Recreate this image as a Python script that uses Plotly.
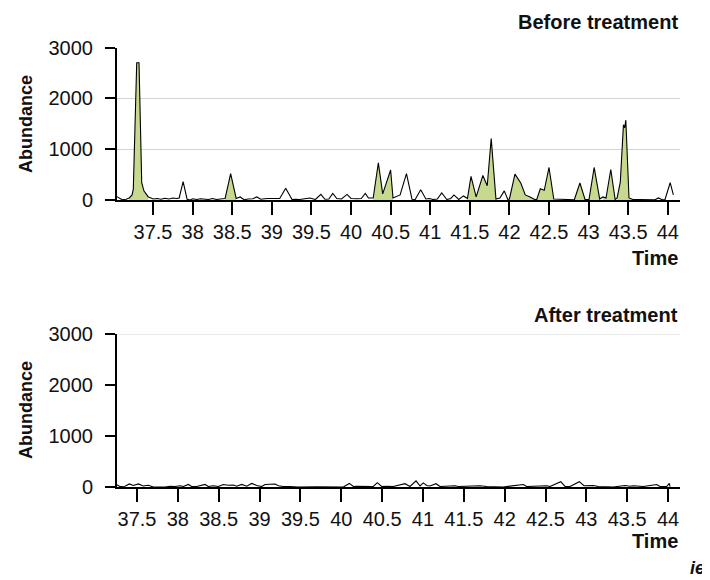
import plotly.graph_objects as go

# ---------------- data ----------------
before_time = [37.045, 37.11, 37.16, 37.20, 37.235, 37.251, 37.294, 37.323, 37.357, 37.386,
               37.441, 37.504, 37.55, 37.60, 37.65, 37.70, 37.75, 37.80, 37.83, 37.88,
               37.93, 37.97, 38.00, 38.05, 38.10, 38.15, 38.20, 38.25, 38.30, 38.35,
               38.41, 38.48, 38.55, 38.60, 38.65, 38.70, 38.76, 38.81, 38.86, 38.94,
               39.00, 39.08, 39.10, 39.175, 39.255, 39.30, 39.35, 39.48, 39.55, 39.62,
               39.67, 39.72, 39.77, 39.82, 39.88, 39.95, 40.00, 40.08, 40.13, 40.18,
               40.22, 40.28, 40.345, 40.40, 40.50, 40.53, 40.57, 40.62, 40.70, 40.77,
               40.81, 40.88, 40.945, 40.99, 41.035, 41.09, 41.145, 41.21, 41.26, 41.30,
               41.36, 41.42, 41.47, 41.515, 41.58, 41.665, 41.72, 41.77, 41.83, 41.88,
               41.935, 41.98, 42.00, 42.07, 42.145, 42.20, 42.26, 42.32, 42.345, 42.39,
               42.44, 42.50, 42.56, 42.64, 42.70, 42.77, 42.82, 42.89, 42.955, 43.005,
               43.07, 43.14, 43.18, 43.22, 43.28, 43.335, 43.36, 43.40, 43.44, 43.455,
               43.47, 43.51, 43.56, 43.63, 43.71, 43.775, 43.84, 43.88, 43.93, 43.965,
               44.03, 44.07]
before_abundance = [65, 5, 15, 40, 100, 215, 2700, 2700, 340, 175,
                    60, 20, 30, 15, 35, 20, 40, 30, 40, 360,
                    15, 0, 25, 10, 25, 15, 10, 30, 10, 20,
                    30, 520, 30, 60, 5, 20, 25, 60, 15, 30,
                    35, 30, 30, 230, 10, 15, 10, 40, 10, 110,
                    15, 20, 130, 30, 20, 110, 30, 25, 30, 130,
                    40, 40, 730, 120, 590, 40, 60, 100, 520, 15,
                    10, 200, 20, 30, 10, 20, 140, 10, 30, 100,
                    10, 80, 30, 465, 60, 483, 280, 1210, 20, 40,
                    180, 10, 20, 510, 330, 100, 60, 10, 10, 220,
                    190, 640, 20, 15, 0, 5, 5, 335, 10, 10,
                    640, 20, 60, 40, 600, 10, 40, 350, 1480, 1420,
                    1570, 40, 10, 10, 10, 0, 5, 40, 5, 10,
                    340, 100]

# detected peaks (shaded)
peak_start = [37.19, 38.40, 40.27, 41.46, 41.995, 42.34, 42.81, 43.00, 43.17, 43.35]
peak_end = [37.45, 38.56, 40.54, 41.84, 42.33, 42.57, 42.96, 43.15, 43.34, 43.57]

after_time = [37.243, 37.292, 37.353, 37.406, 37.455, 37.516, 37.577, 37.638, 37.70, 37.843,
              37.904, 37.965, 38.026, 38.067, 38.128, 38.169, 38.23, 38.332, 38.373, 38.434,
              38.495, 38.556, 38.617, 38.679, 38.72, 38.781, 38.843, 38.904, 38.965, 39.026,
              39.067, 39.128, 39.189, 39.23, 39.291, 39.373, 39.474, 39.70, 39.944, 40.025,
              40.099, 40.148, 40.189, 40.392, 40.441, 40.495, 40.556, 40.637, 40.78, 40.841,
              40.915, 40.964, 41.004, 41.046, 41.086, 41.16, 41.209, 41.392, 41.433, 41.698,
              41.78, 41.983, 42.228, 42.27, 42.515, 42.555, 42.686, 42.739, 42.80, 42.914,
              42.971, 43.085, 43.146, 43.33, 43.473, 43.534, 43.575, 43.636, 43.697, 43.861,
              43.90, 43.983, 44.015, 44.024]
after_abundance = [50, 10, 15, 60, 30, 60, 20, 35, 0, 0,
                   15, 10, 25, 10, 50, 10, 10, 50, 10, 25,
                   10, 50, 35, 40, 15, 50, 15, 70, 30, 10,
                   50, 60, 60, 25, 10, 10, 0, 5, 10, 0,
                   70, 10, 15, 10, 85, 10, 15, 10, 65, 10,
                   120, 20, 80, 30, 20, 65, 10, 25, 10, 25,
                   10, 0, 50, 10, 25, 10, 105, 10, 10, 105,
                   25, 30, 10, 0, 30, 15, 25, 15, 10, 50,
                   10, 10, 70, 5]

time_ticks = [37.5, 38, 38.5, 39, 39.5, 40, 40.5, 41, 41.5, 42, 42.5, 43, 43.5, 44]
time_labels = ["37.5", "38", "38.5", "39", "39.5", "40", "40.5", "41", "41.5", "42",
               "42.5", "43", "43.5", "44"]
abundance_ticks = [0, 1000, 2000, 3000]
abundance_labels = ["0", "1000", "2000", "3000"]
panel_titles = ["Before treatment", "After treatment"]

# ---------------- figure ----------------
W, H = 710, 580
OFF = 8  # page body margin in the browser
FONT = "Liberation Sans, Arial, Helvetica, sans-serif"
GREEN = "#c6d98f"


def px(x):
    return (x - OFF) / W


def py(y):
    return 1 - (y - OFF) / H


fig = go.Figure()

for s, e in zip(peak_start, peak_end):
    xs = [t for t in before_time if s <= t <= e]
    ys = [v for t, v in zip(before_time, before_abundance) if s <= t <= e]
    fig.add_trace(go.Scatter(x=xs, y=ys, mode="lines", fill="tozeroy",
                             fillcolor=GREEN, line=dict(width=0, color=GREEN),
                             xaxis="x", yaxis="y", showlegend=False, hoverinfo="skip"))

fig.add_trace(go.Scatter(x=before_time, y=before_abundance, mode="lines",
                         line=dict(color="black", width=1.1),
                         xaxis="x", yaxis="y", showlegend=False))
fig.add_trace(go.Scatter(x=after_time, y=after_abundance, mode="lines",
                         line=dict(color="black", width=1.1),
                         xaxis="x2", yaxis="y2", showlegend=False))

xl, xr = px(117), px(680)

xcommon = dict(tickvals=time_ticks, ticktext=time_labels, ticks="outside", ticklen=13,
               tickwidth=2, tickcolor="black", showline=True, linewidth=2, linecolor="black",
               showgrid=False, zeroline=False, tickfont=dict(size=20, color="#111"),
               domain=[xl, xr], automargin=False)
ycommon = dict(tickvals=abundance_ticks, ticktext=abundance_labels, range=[0, 3000],
               ticks="outside", ticklen=10, tickwidth=2, tickcolor="black", showline=True,
               linewidth=2, linecolor="black", zeroline=False, automargin=False,
               tickfont=dict(size=20, color="#111"), ticklabelstandoff=8)

fig.update_layout(
    template="none",
    width=W, height=H,
    margin=dict(l=0, r=0, t=0, b=0, pad=0, autoexpand=False),
    paper_bgcolor="white", plot_bgcolor="white",
    font=dict(family=FONT, color="#111"),
    showlegend=False,
    xaxis=dict(**xcommon, range=[37.045, 44.154], anchor="y"),
    yaxis=dict(**ycommon, domain=[py(200), py(47.5)], anchor="x", showgrid=True,
               gridcolor="#d3d3d3", gridwidth=1),
    xaxis2=dict(**xcommon, range=[37.255, 44.146], anchor="y2"),
    yaxis2=dict(**ycommon, domain=[py(487), py(334)], anchor="x2", showgrid=False),
)

fig.add_shape(type="line", xref="x2 domain", yref="y2", x0=0, x1=1, y0=3000, y1=3000,
              line=dict(color="#d3d3d3", width=1), layer="below")

ann = []
for title, ypix in zip(panel_titles, [22, 315]):
    ann.append(dict(text="<b>%s</b>" % title, x=xr, y=py(ypix), xref="paper", yref="paper",
                    xanchor="right", yanchor="middle", showarrow=False,
                    font=dict(size=20, family=FONT, color="#111")))
for ypix in [258, 541]:
    ann.append(dict(text="<b>Time</b>", x=xr, y=py(ypix), xref="paper", yref="paper",
                    xanchor="right", yanchor="middle", showarrow=False,
                    font=dict(size=20, family=FONT, color="#111")))
for ypix in [124, 410]:
    ann.append(dict(text="<b>Abundance</b>", x=px(26), y=py(ypix), xref="paper",
                    yref="paper", xanchor="center", yanchor="middle", textangle=-90,
                    showarrow=False, font=dict(size=18, family=FONT, color="#111")))
ann.append(dict(text="<b><i>ie</i></b>", x=px(697), y=py(568), xref="paper", yref="paper",
                xanchor="center", yanchor="middle", showarrow=False,
                font=dict(size=18, family=FONT, color="#111")))
fig.update_layout(annotations=ann)

fig.write_html("out.html")
